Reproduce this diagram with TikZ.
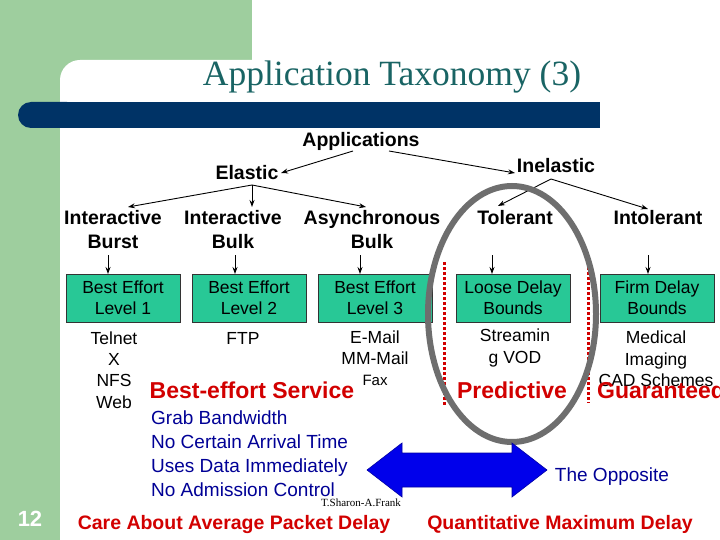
\documentclass[tikz,border=0pt]{standalone}
\usepackage{fontspec}
\setmainfont{Liberation Sans}
\newfontfamily\tnr{Liberation Serif}
\usetikzlibrary{arrows.meta}
\definecolor{bggreen}{RGB}{158,206,158}
\definecolor{barblue}{RGB}{0,51,102}
\definecolor{titleteal}{RGB}{25,100,100}
\definecolor{boxgreen}{RGB}{40,200,150}
\definecolor{redtxt}{RGB}{210,0,0}
\definecolor{navytxt}{RGB}{0,0,150}
\definecolor{arrblue}{RGB}{0,0,235}
\definecolor{ringgray}{RGB}{110,110,110}
\tikzset{
  lbl/.style={font=\fontsize{19.5}{24}\selectfont\bfseries, align=center, inner sep=1pt},
  box/.style={draw=black!80, line width=0.8pt, fill=boxgreen, minimum width=114pt, minimum height=48pt,
    font=\fontsize{17.5}{21}\selectfont, align=center, inner sep=0pt},
  ex/.style={font=\fontsize{17.5}{21.3}\selectfont, align=center, inner sep=0pt},
  redl/.style={font=\fontsize{23}{26}\selectfont\bfseries, text=redtxt, inner sep=0pt},
  redb/.style={font=\fontsize{19.5}{24}\selectfont\bfseries, text=redtxt, inner sep=0pt},
  bluel/.style={font=\fontsize{19}{24}\selectfont, text=navytxt, inner sep=0pt},
  arr/.style={-{Stealth[length=7pt,width=5pt]}, line width=0.9pt},
  dotline/.style={redtxt, line width=3pt, dash pattern=on 3pt off 2pt},
}
\begin{document}
\begin{tikzpicture}[x=1pt,y=-1pt]
\useasboundingbox (0,0) rectangle (720,540);
% background
\fill[bggreen] (0,0) rectangle (252,80);
\fill[bggreen] (0,0) rectangle (60,540);
\fill[white, rounded corners=20pt] (60,60) rectangle (760,580);
\fill[barblue, rounded corners=13pt] (18,102) rectangle (80,128);
\fill[barblue] (40,102) rectangle (600,128);
% title
\node[font=\tnr\fontsize{35.5}{40}\selectfont, text=titleteal] (title) at (392,77) {Application Taxonomy (3)};
% level labels
\node[lbl] (app) at (361,141) {Applications};
\node[lbl] (elastic) at (247,173) {Elastic};
\node[lbl] (inelastic) at (556,166) {Inelastic};
\node[lbl] (ib) at (113,230) {Interactive\\Burst};
\node[lbl] (ibulk) at (233,230) {Interactive\\Bulk};
\node[lbl] (async) at (372,230) {Asynchronous\\Bulk};
\node[lbl] (tol) at (515,218) {Tolerant};
\node[lbl] (intol) at (658,218) {Intolerant};
% arrows
\coordinate (a1) at (353,151); \coordinate (a1e) at (281,173);
\coordinate (a2) at (389,151); \coordinate (a2e) at (515,173);
\draw[arr] (a1) -- (a1e);
\draw[arr] (a2) -- (a2e);
\coordinate (e0) at (252,185);
\coordinate (e1) at (128,207); \coordinate (e2) at (252,207); \coordinate (e3) at (366,207);
\draw[arr] (e0) -- (e1);
\draw[arr] (e0) -- (e2);
\draw[arr] (e0) -- (e3);
\coordinate (i0) at (551,179);
\coordinate (i1) at (498,206); \coordinate (i2) at (648,209);
\draw[arr] (i0) -- (i1);
\draw[arr] (i0) -- (i2);
% boxes
\node[box] (b1) at (123,298) {Best Effort\\Level 1};
\node[box] (b2) at (249,298) {Best Effort\\Level 2};
\node[box] (b3) at (375,298) {Best Effort\\Level 3};
\node[box] (b4) at (513,298) {Loose Delay\\Bounds};
\node[box] (b5) at (657,298) {Firm Delay\\Bounds};
\foreach \n/\x in {b1/108,b2/235,b3/360,b4/492,b5/648}{
  \coordinate (\n t) at (\x,255);
  \draw[arr] (\n t) -- (\x,274);
}
% examples
\node[ex] (ex1) at (114,370) {Telnet\\X\\NFS\\Web};
\node[ex] (ex2) at (243,338) {FTP};
\node[ex] (ex3) at (375,348) {E-Mail\\MM-Mail};
\node[ex, font=\fontsize{15}{18}\selectfont] (fax) at (375,380) {Fax};
\node[ex] (ex4) at (515,348) {Streamin\\g VOD};
\node[ex] (ex5) at (656,359) {Medical\\Imaging\\CAD Schemes};
% red dotted separators
\coordinate (s1t) at (444,262); \coordinate (s1b) at (444,405);
\coordinate (s2t) at (588,262); \coordinate (s2b) at (588,403);
\draw[dotline] (s1t) -- (s1b);
\draw[dotline] (s2t) -- (s2b);
% service labels
\node[redl] (bes) at (252,390) {Best-effort Service};
\node[redl] (pred) at (512,390) {Predictive};
\node[redl, anchor=west] (guar) at (597,390) {Guaranteed};
% ellipse
\draw[ringgray, line width=6pt] (512,314) ellipse [x radius=84, y radius=128];
% blue list
\node[bluel, anchor=north west, align=left] (list) at (151,411) {Grab Bandwidth\\No Certain Arrival Time\\Uses Data Immediately\\No Admission Control};
\node[bluel] (opp) at (612,477) {The Opposite};
% double arrow
\filldraw[fill=arrblue, draw=arrblue!70!black, line width=0.6pt]
  (367,470) -- (402,443) -- (402,453) -- (512,453) -- (512,443) -- (547,470)
  -- (512,497) -- (512,487) -- (402,487) -- (402,497) -- cycle;
% footer
\node[font=\tnr\fontsize{11}{13}\selectfont, inner sep=0pt] (author) at (361,503) {T.Sharon-A.Frank};
\node[font=\fontsize{22}{26}\selectfont\bfseries, text=white] (num) at (30,519) {12};
\node[redb] (care) at (234,524) {Care About Average Packet Delay};
\node[redb] (quant) at (560,524) {Quantitative Maximum Delay};
\end{tikzpicture}
\end{document}
